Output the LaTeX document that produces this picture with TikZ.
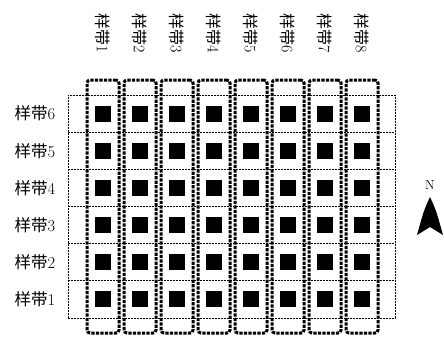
\documentclass[tikz,border=0pt]{standalone}
\usepackage{fontspec}
\newfontfamily\cjk{Noto Sans CJK SC}
\begin{document}
\begin{tikzpicture}[x=1pt,y=-1pt,
  gridline/.style={draw=black,line width=0.9pt,dash pattern=on 2pt off 1pt},
  colbox/.style={draw=black,line width=3pt,dash pattern=on 3.2pt off 1.3pt,rounded corners=3pt,minimum width=32pt,minimum height=253pt,inner sep=0pt},
  plot/.style={fill=black,minimum width=16pt,minimum height=16pt,inner sep=0pt},
  toplabel/.style={rotate=-90,font=\fontsize{16}{16}\selectfont,inner sep=0pt},
  leftlabel/.style={font=\fontsize{16.5}{16.5}\selectfont,inner sep=0pt}]
\useasboundingbox (0,0) rectangle (444,337);
% grid of rows
\node[gridline,minimum width=327pt,minimum height=223pt,inner sep=0pt] (grid) at (231.5,206.5) {};
\foreach \j in {1,...,5} {
  \coordinate (rl\j) at (68,{318-\j*37.17});
  \coordinate (rr\j) at (395,{318-\j*37.17});
  \draw[gridline] (rl\j) -- (rr\j);
}
% columns
\foreach \i in {1,...,8} {
  \pgfmathsetmacro{\cx}{103+(\i-1)*37}
  \node[colbox] (col\i) at (\cx,206.5) {};
  \node[toplabel] (tl\i) at (\cx,33) {{\cjk 样带}\i};
  \foreach \j in {1,...,6} {
    \node[plot] (p\i-\j) at (\cx,{318-(\j-0.5)*37.17}) {};
  }
}
% row labels
\foreach \j in {1,...,6} {
  \node[leftlabel] (ll\j) at (35,{318-(\j-0.5)*37.17}) {{\cjk 样带}\j};
}
% north arrow
\node[font=\fontsize{13}{13}\selectfont,inner sep=0pt] (north) at (430,185) {N};
\coordinate (ntip) at (430,197);
\fill (ntip) .. controls (436,210) .. (443,235) -- (430,227) -- (417,235) .. controls (424,210) .. (ntip) -- cycle;
\end{tikzpicture}
\end{document}
